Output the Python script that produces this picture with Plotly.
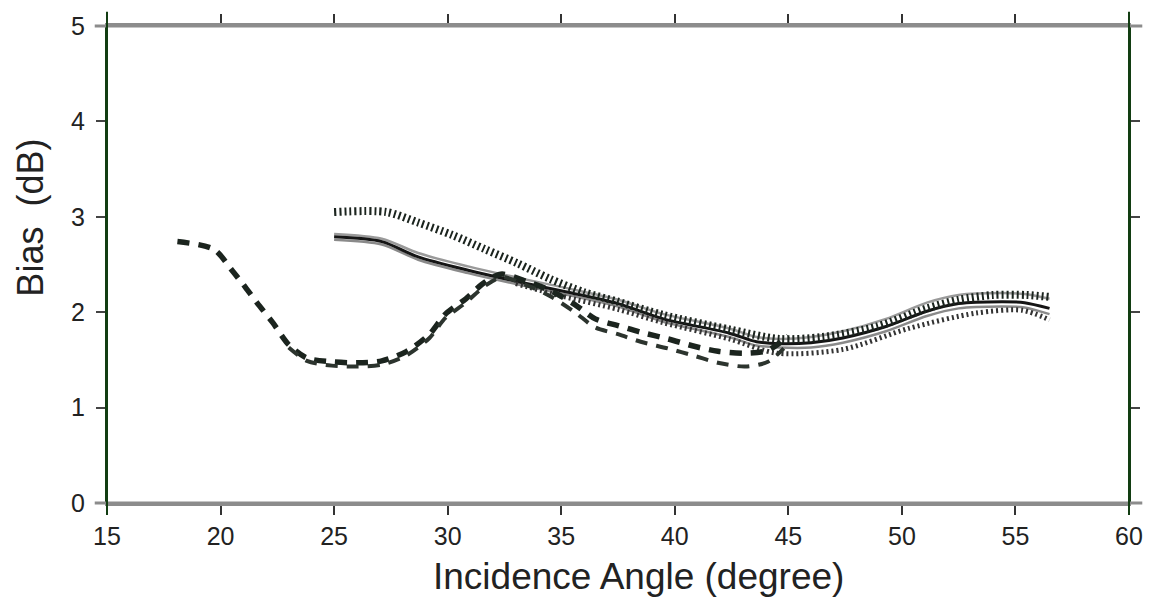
import plotly.graph_objects as go

# ---- data ----
dash1_x = [18.1, 19.7, 20.5, 21.0, 21.6, 22.3, 23.0, 23.8, 24.9, 26.0, 27.1, 28.2, 29.2, 29.9,
           30.8, 31.5, 32.0, 32.4, 33.5, 34.5, 35.6, 36.5, 37.5, 38.5, 39.7, 40.9, 41.9, 43.1, 44.1, 45.0]
dash1_y = [2.74, 2.66, 2.44, 2.29, 2.10, 1.89, 1.66, 1.52, 1.48, 1.47, 1.49, 1.59, 1.77, 1.98,
           2.14, 2.29, 2.37, 2.40, 2.32, 2.23, 2.08, 1.93, 1.86, 1.79, 1.72, 1.64, 1.59, 1.57, 1.60, 1.75]

dash2_x = [23.0, 23.8, 24.9, 26.0, 27.1, 28.2, 29.2, 29.9, 30.8, 31.5, 32.0, 32.4, 33.5, 34.5,
           35.6, 36.5, 37.5, 38.5, 39.7, 40.9, 41.9, 43.1, 44.1, 44.8]
dash2_y = [1.63, 1.49, 1.44, 1.43, 1.45, 1.55, 1.73, 1.94, 2.10, 2.25, 2.33, 2.37, 2.28, 2.17,
           2.00, 1.84, 1.77, 1.69, 1.62, 1.54, 1.47, 1.43, 1.48, 1.62]

solid_x = [25.0, 27.1, 28.7, 30.9, 33.1, 35.3, 37.5, 39.5, 42.4, 43.6, 44.6, 46.0, 47.4, 49.3,
           51.1, 52.5, 54.4, 55.4, 56.5]
solid_y = [2.79, 2.74, 2.58, 2.44, 2.32, 2.21, 2.09, 1.93, 1.78, 1.69, 1.67, 1.68, 1.73, 1.85,
           2.01, 2.09, 2.11, 2.10, 2.04]
gray_up_y = [2.82, 2.77, 2.62, 2.48, 2.36, 2.25, 2.13, 1.98, 1.83, 1.74, 1.72, 1.74, 1.80, 1.93,
             2.10, 2.18, 2.20, 2.19, 2.14]
gray_dn_y = [2.76, 2.71, 2.55, 2.41, 2.29, 2.18, 2.06, 1.90, 1.74, 1.65, 1.63, 1.63, 1.68, 1.80,
             1.96, 2.04, 2.06, 2.05, 1.98]

dot1_x = [25.0, 27.3, 28.7, 30.2, 31.65, 33.1, 34.5, 36.0, 37.5, 39.5, 42.4, 44.6, 46.5, 48.9,
          51.1, 52.5, 54.0, 55.5, 56.5]
dot1_y = [3.05, 3.05, 2.94, 2.81, 2.66, 2.51, 2.35, 2.21, 2.11, 1.97, 1.82, 1.72, 1.74, 1.85,
          2.04, 2.13, 2.18, 2.18, 2.16]
dot2_x = [33.0, 35.0, 37.5, 39.5, 42.4, 44.5, 47.4, 50.3, 53.25, 55.3, 56.5]
dot2_y = [2.30, 2.17, 2.03, 1.89, 1.72, 1.57, 1.61, 1.83, 1.99, 2.02, 1.92]

x_ticks = [15, 20, 25, 30, 35, 40, 45, 50, 55, 60]
y_ticks = [0, 1, 2, 3, 4, 5]

INK = "#1b241e"

fig = go.Figure()

def add(x, y, color, width, dash):
    fig.add_trace(go.Scatter(x=x, y=y, mode="lines",
                             line=dict(color=color, width=width, dash=dash, shape="spline", smoothing=0.8),
                             showlegend=False, hoverinfo="skip"))

add(solid_x, gray_up_y, "#9a9a9a", 2.5, "solid")
add(solid_x, gray_dn_y, "#8a8a8a", 2.5, "solid")
add(solid_x, solid_y, "#151515", 3, "solid")
add(dot1_x, dot1_y, INK, 8, "2px,3px")
add(dot2_x, dot2_y, "#333333", 5, "2px,3px")
add(dash1_x, dash1_y, INK, 5.5, "12px,9px")
add(dash2_x, dash2_y, "#2c342e", 4, "12px,9px")

fig.update_layout(
    width=1155, height=597,
    margin=dict(l=107, r=19, t=21, b=94),
    paper_bgcolor="white", plot_bgcolor="white",
    font=dict(family="Liberation Sans, Arial, sans-serif", color="#222222"),
    xaxis=dict(range=[15, 60], tickvals=x_ticks, ticktext=[str(v) for v in x_ticks],
               showgrid=False, zeroline=False,
               showline=True, linecolor="#8c8c8c", linewidth=3, mirror="ticks",
               ticks="outside", ticklen=9, tickwidth=2, tickcolor="#333333",
               tickfont=dict(size=25, color="#222222")),
    yaxis=dict(range=[0, 5], tickvals=y_ticks, ticktext=[str(v) for v in y_ticks],
               showgrid=False, zeroline=False,
               showline=True, linecolor="#123d12", linewidth=2, mirror="ticks",
               ticks="outside", ticklen=9, tickwidth=2, tickcolor="#444444",
               ticklabelstandoff=6,
               tickfont=dict(size=25, color="#222222")),
)

# extended frame lines like the scanned figure
fig.add_shape(type="line", xref="paper", yref="paper", x0=-0.012, x1=1.013, y0=0, y1=0,
              line=dict(color="#8c8c8c", width=3))
fig.add_shape(type="line", xref="paper", yref="paper", x0=-0.012, x1=1.013, y0=1, y1=1,
              line=dict(color="#8c8c8c", width=3))
fig.add_shape(type="line", xref="paper", yref="paper", x0=0, x1=0, y0=-0.025, y1=1.03,
              line=dict(color="#123d12", width=2))
fig.add_shape(type="line", xref="paper", yref="paper", x0=1, x1=1, y0=-0.025, y1=1.03,
              line=dict(color="#123d12", width=2))

fig.add_annotation(text="Incidence Angle (degree)", xref="paper", yref="paper",
                   x=0.52, y=-0.154, xanchor="center", yanchor="middle", showarrow=False,
                   font=dict(size=37, color="#222222"))
fig.add_annotation(text="Bias  (dB)", xref="paper", yref="paper",
                   x=-0.075, y=0.599, xanchor="center", yanchor="middle", showarrow=False,
                   textangle=-90, font=dict(size=36, color="#222222"))

fig.write_html("out.html")
